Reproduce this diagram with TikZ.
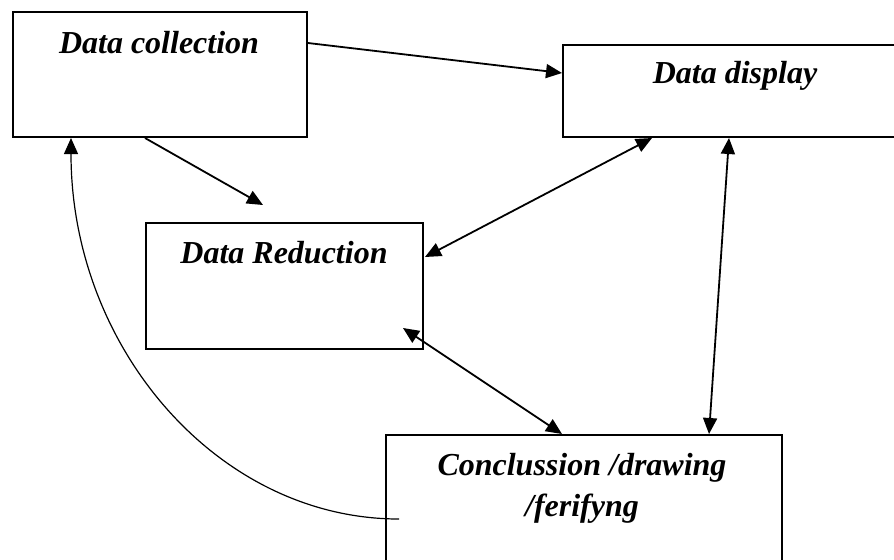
\documentclass[tikz,border=0pt]{standalone}
\usepackage{fontspec}
\setmainfont{Liberation Serif}
\usetikzlibrary{arrows.meta,calc}

\begin{document}
\begin{tikzpicture}[x=0.5pt,y=-0.5pt,
    stage/.style={draw,line width=1pt,inner sep=0pt},
    caption/.style={font=\fontsize{16}{20.5}\selectfont\bfseries\itshape,inner sep=0pt,align=center},
    link/.style={line width=0.9pt,-{Triangle[length=8pt,width=7pt]}},
    biglink/.style={link,{Triangle[length=8pt,width=7pt]}-{Triangle[length=8pt,width=7pt]}},
    backlink/.style={line width=0.6pt,-{Triangle[length=8pt,width=7pt]}}]
  \useasboundingbox (0,0) rectangle (894,559);
  \clip (0,0) rectangle (894,559);
  % the four stages
  \node[stage,minimum width=147pt,minimum height=62.5pt] (coll) at (160,74.5) {};
  \node[stage,minimum width=172pt,minimum height=46pt] (disp) at (735,91) {};
  \node[stage,minimum width=138.5pt,minimum height=63pt] (red) at (284.5,286) {};
  \node[stage,minimum width=198pt,minimum height=90pt] (conc) at (584,525) {};
  \node[caption,anchor=base] (collt) at (159,53) {Data collection};
  \node[caption,anchor=base] (dispt) at (735,83) {Data display};
  \node[caption,anchor=base] (redt) at (284,263) {Data Reduction};
  \node[caption,anchor=base] (conct) at (582,516) {Conclussion /drawing\\/ferifyng};
  % flows between them
  \draw[link] ($(coll.east)+(0,-31.5)$) -- ($(disp.west)+(0,-18)$);
  \draw[link] ($(coll.south)+(-15,0)$) -- ($(red.north)+(-21.5,-17)$);
  \draw[biglink] ($(disp.south west)+(90,0)$) -- ($(red.east)+(1,-29)$);
  \draw[biglink] ($(disp.south west)+(167,0)$) -- ($(conc.north west)+(324,0)$);
  \draw[biglink] ($(red.south east)+(-21,-22)$) -- ($(conc.north west)+(177,0)$);
  \draw[backlink] ($(conc.north west)+(14,85)$) .. controls +(-181,0) and +(0,210) .. ($(coll.south west)+(59,0)$);
\end{tikzpicture}
\end{document}
